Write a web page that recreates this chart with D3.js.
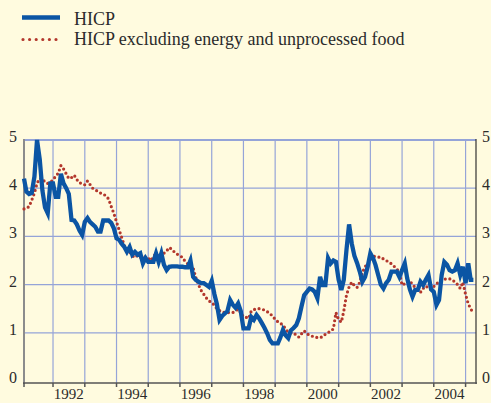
<!DOCTYPE html>
<meta charset="utf-8">
<style>
  body { margin: 0; background: #fffbdf; }
  text { font-family: "Liberation Serif", "Times New Roman", serif; fill: #2b2b2b; }
</style>
<body>
<script src="https://d3js.org/d3.v7.min.js"></script>
<script>
var width = 491,
    height = 403;

// monthly, starting February 1991
var hicp = [
  4.2, 3.93, 3.88, 3.9, 4.24, 5.0, 4.6, 3.95, 3.6, 3.48, 4.1,
  4.1, 3.82, 3.82, 4.3, 4.1, 4.0, 3.88, 3.34, 3.33, 3.25, 3.12, 3.03,
  3.3, 3.38, 3.3, 3.25, 3.2, 3.1, 3.1, 3.33, 3.33, 3.33, 3.28, 3.17,
  2.96, 2.93, 2.85, 2.78, 2.68, 2.78, 2.62, 2.68, 2.62, 2.65, 2.44, 2.55,
  2.47, 2.47, 2.47, 2.65, 2.47, 2.65, 2.41, 2.3, 2.37, 2.38, 2.38, 2.38,
  2.37, 2.37, 2.36, 2.36, 2.5, 2.16, 2.1, 2.06, 2.03, 2.03, 1.99, 1.95,
  2.08, 1.8, 1.6, 1.27, 1.35, 1.4, 1.45, 1.68, 1.58, 1.52, 1.61, 1.45,
  1.09, 1.09, 1.09, 1.33, 1.27, 1.37, 1.3, 1.2, 1.1, 0.99, 0.85, 0.78,
  0.78, 0.78, 0.9, 1.06, 0.95, 0.89, 1.05, 1.1, 1.16, 1.3, 1.55, 1.78,
  1.85, 1.92, 1.9, 1.85, 1.72, 2.16, 1.99, 1.99, 2.55, 2.44, 2.5, 2.47,
  2.1, 1.89, 2.1, 2.72, 3.25, 2.85, 2.6, 2.45, 2.27, 2.06, 2.16, 2.37,
  2.65, 2.55, 2.41, 2.2, 2.0, 1.92, 2.03, 2.1, 2.27, 2.27, 2.27, 2.16,
  2.3, 2.44, 2.13, 1.9, 1.75, 1.89, 1.89, 2.06, 1.99, 2.1, 2.2, 1.9,
  1.85, 1.58, 1.68, 2.2, 2.47, 2.41, 2.3, 2.27, 2.3, 2.44, 2.2, 2.37,
  2.03, 2.44, 2.1, 2.1
];

var core = [
  3.57, 3.58, 3.62, 3.75, 3.9, 4.1, 4.2, 4.2, 4.12, 4.1, 4.12,
  4.17, 4.25, 4.31, 4.47, 4.4, 4.3, 4.2, 4.22, 4.27, 4.18, 4.11, 4.1,
  4.07, 4.15, 4.08, 4.0, 3.97, 3.93, 3.9, 3.88, 3.84, 3.78, 3.62, 3.48,
  3.3, 3.13, 2.98, 2.81, 2.72, 2.68, 2.6, 2.56, 2.61, 2.57, 2.57, 2.58,
  2.55, 2.5, 2.58, 2.65, 2.57, 2.6, 2.65, 2.7, 2.77, 2.73, 2.67, 2.63,
  2.6, 2.56, 2.48, 2.43, 2.43, 2.35, 2.15, 2.0, 1.88, 1.8, 1.72, 1.66,
  1.63, 1.57, 1.5, 1.46, 1.43, 1.42, 1.42, 1.42, 1.42, 1.45, 1.49, 1.42,
  1.33, 1.32, 1.3, 1.45, 1.48, 1.5, 1.5, 1.49, 1.47, 1.44, 1.4, 1.35,
  1.28, 1.23, 1.2, 1.16, 1.08, 1.01, 1.0, 1.0, 0.95, 0.91, 0.98, 1.04,
  0.98, 0.95, 0.93, 0.92, 0.9, 0.9, 0.92, 0.97, 1.0, 1.04, 1.08, 1.42,
  1.27, 1.22, 1.45, 1.78, 1.95, 2.05, 1.98, 1.94, 2.05, 2.25, 2.37, 2.44,
  2.5, 2.59, 2.58, 2.57, 2.57, 2.53, 2.5, 2.47, 2.43, 2.38, 2.33, 2.25,
  1.99, 2.02, 2.04, 2.08, 2.0, 1.94, 1.88, 1.84, 1.92, 1.97, 1.93, 1.9,
  1.96, 2.02, 2.05, 2.1, 2.11, 2.12, 2.12, 2.1, 2.05, 2.0, 1.92, 2.05,
  1.8, 1.6, 1.5, 1.4
];

var yTicks = [0, 1, 2, 3, 4, 5];
var gridYears = d3.range(1992, 2006);
var labelYears = [1992, 1994, 1996, 1998, 2000, 2002, 2004];
var seriesNames = ["HICP", "HICP excluding energy and unprocessed food"];

var blue = "#0b55a4", red = "#b3372c", grid = "#95a4d8";

function monthDate(i) { return new Date(1991, 1 + i, 1); }

var x = d3.scaleTime()
    .domain([new Date(1991, 1, 1), new Date(2005, 4, 1)])
    .range([24, 476]);

var y = d3.scaleLinear()
    .domain([0, 5])
    .range([381, 140]);

var svg = d3.select("body").append("svg")
    .attr("width", width)
    .attr("height", height);

svg.append("rect").attr("width", width).attr("height", height).attr("fill", "#fffbdf");

// grid
svg.append("g").selectAll("line").data(yTicks.filter(function(d) { return d > 0; }))
  .enter().append("line")
    .attr("x1", 24).attr("x2", 476)
    .attr("y1", function(d) { return y(d); }).attr("y2", function(d) { return y(d); })
    .attr("stroke", grid).attr("stroke-width", function(d) { return d == 5 ? 2 : 1.2; });

svg.append("g").selectAll("line").data(gridYears)
  .enter().append("line")
    .attr("x1", function(d) { return x(new Date(d, 0, 1)); })
    .attr("x2", function(d) { return x(new Date(d, 0, 1)); })
    .attr("y1", 140).attr("y2", 383)
    .attr("stroke", grid).attr("stroke-width", 1.2);

// axes
svg.append("line").attr("x1", 24).attr("x2", 24).attr("y1", 139).attr("y2", 384)
    .attr("stroke", "#8c8c8c").attr("stroke-width", 2);
svg.append("line").attr("x1", 476).attr("x2", 476).attr("y1", 139).attr("y2", 384)
    .attr("stroke", "#333").attr("stroke-width", 1.2);
svg.append("line").attr("x1", 23).attr("x2", 477).attr("y1", 383).attr("y2", 383)
    .attr("stroke", "#555").attr("stroke-width", 1.5);

svg.append("g").selectAll("line").data([1991.08].concat(gridYears))
  .enter().append("line")
    .attr("x1", function(d) { return d < 1992 ? 24 : x(new Date(d, 0, 1)); })
    .attr("x2", function(d) { return d < 1992 ? 24 : x(new Date(d, 0, 1)); })
    .attr("y1", 383).attr("y2", 387)
    .attr("stroke", "#555").attr("stroke-width", 1.5);

svg.append("g").selectAll("text").data(yTicks)
  .enter().append("text")
    .attr("x", 17).attr("y", function(d) { return y(d) + 2; })
    .attr("text-anchor", "end")
    .style("font-size", "16px")
    .text(function(d) { return d; });

svg.append("g").selectAll("text").data(yTicks)
  .enter().append("text")
    .attr("x", 482).attr("y", function(d) { return y(d) + 2; })
    .style("font-size", "16px")
    .text(function(d) { return d; });

svg.append("g").selectAll("text").data(labelYears)
  .enter().append("text")
    .attr("x", function(d) { return x(new Date(d, 6, 1)); })
    .attr("y", 399)
    .attr("text-anchor", "middle")
    .style("font-size", "15px")
    .text(function(d) { return d; });

// series
var line = d3.line()
    .x(function(d, i) { return x(monthDate(i)); })
    .y(function(d) { return y(d); });

svg.append("path").datum(core)
    .attr("d", line)
    .attr("fill", "none")
    .attr("stroke", red)
    .attr("stroke-width", 3.2)
    .attr("stroke-linecap", "round")
    .attr("stroke-dasharray", "0,4.6");

svg.append("path").datum(hicp)
    .attr("d", line)
    .attr("fill", "none")
    .attr("stroke", blue)
    .attr("stroke-width", 4.3)
    .attr("stroke-linejoin", "miter");

// legend
svg.append("line").attr("x1", 22).attr("x2", 60).attr("y1", 17.5).attr("y2", 17.5)
    .attr("stroke", blue).attr("stroke-width", 4.3);
svg.append("line").attr("x1", 23).attr("x2", 60).attr("y1", 39.5).attr("y2", 39.5)
    .attr("stroke", red).attr("stroke-width", 3.2)
    .attr("stroke-linecap", "round").attr("stroke-dasharray", "0,6.6");

svg.append("g").selectAll("text").data(seriesNames)
  .enter().append("text")
    .attr("x", 74).attr("y", function(d, i) { return 25 + i * 20; })
    .style("font-size", "18px")
    .text(function(d) { return d; });
</script>
</body>
